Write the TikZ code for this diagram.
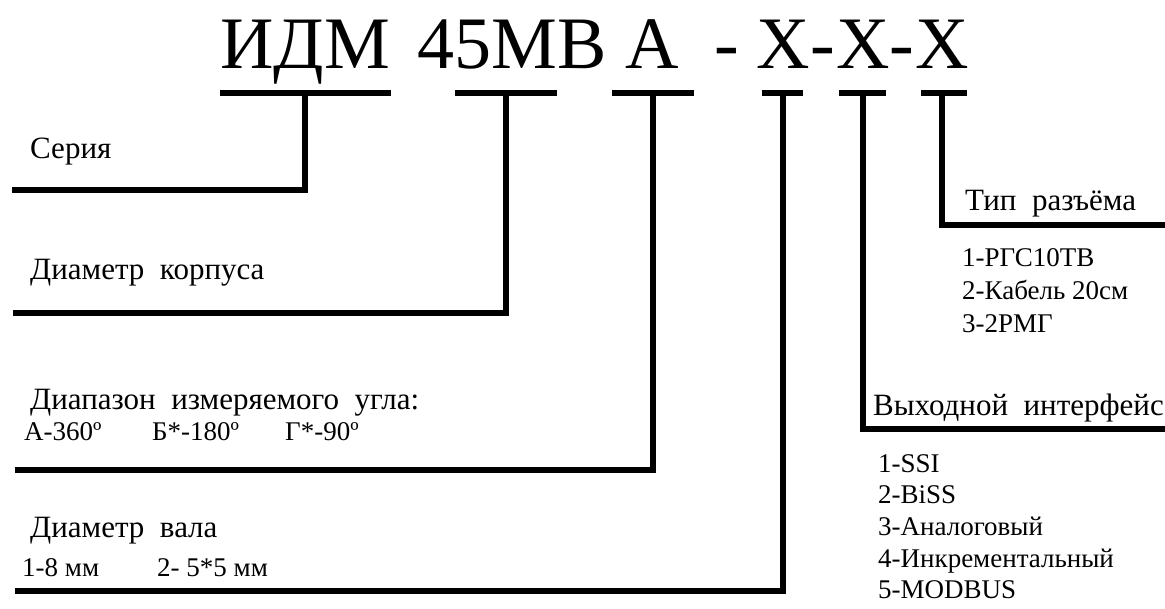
\documentclass[tikz,border=0pt]{standalone}
\usepackage{fontspec}
\setmainfont{Liberation Serif}
\begin{document}
\begin{tikzpicture}[x=1pt,y=-1pt,
  conn/.style={line width=6.5pt, line join=miter},
  title/.style={font=\fontsize{74}{74}\selectfont, anchor=base, inner sep=0pt},
  lbl/.style={font=\fontsize{31}{31}\selectfont, anchor=base west, inner sep=0pt},
  sub/.style={font=\fontsize{27}{27}\selectfont, anchor=base west, inner sep=0pt}]
\useasboundingbox (0,0) rectangle (1165,608);
% title
\node[title] (t1) at (305,68) {ИДМ};
\node[title] (t2) at (512,68) {45МВ};
\node[title] (t3) at (652,68) {А};
\node[title] (t4) at (727,68) {-};
\node[title] (x1) at (783,68) {Х};
\node[title] (d1) at (823,68) {-};
\node[title] (x2) at (863,68) {Х};
\node[title] (d2) at (902,68) {-};
\node[title] (x3) at (942,68) {Х};
% labels
\node[lbl] (l1) at (30,158) {Серия};
\node[lbl] (l2) at (30,279) {Диаметр\ \ корпуса};
\node[lbl] (l3) at (30,409) {Диапазон\ \ измеряемого\ \ угла:};
\node[sub] (l3a) at (24,440) {А-360º};
\node[sub] (l3b) at (152,440) {Б*-180º};
\node[sub] (l3c) at (285,440) {Г*-90º};
\node[lbl] (l4) at (30,537) {Диаметр\ \ вала};
\node[sub] (l4a) at (22,576) {1-8 мм};
\node[sub] (l4b) at (157,576) {2- 5*5 мм};
\node[lbl] (r1) at (965,210) {Тип\ \ разъёма};
\node[sub] (r1a) at (962,266) {1-РГС10ТВ};
\node[sub] (r1b) at (962,299) {2-Кабель 20см};
\node[sub] (r1c) at (962,332) {3-2РМГ};
\node[lbl] (r2) at (873,415) {Выходной\ \ интерфейс};
\node[sub] (r2a) at (878,472) {1-SSI};
\node[sub] (r2b) at (878,503) {2-BiSS};
\node[sub] (r2c) at (878,535) {3-Аналоговый};
\node[sub] (r2d) at (878,567) {4-Инкрементальный};
\node[sub] (r2e) at (878,598) {5-MODBUS};
% bars under title parts
\coordinate (b1l) at (220,93); \coordinate (b1r) at (391,93); \coordinate (b1) at (305,93);
\coordinate (b2l) at (455,93); \coordinate (b2r) at (557,93); \coordinate (b2) at (506,93);
\coordinate (b3l) at (612,93); \coordinate (b3r) at (694,93); \coordinate (b3) at (653,93);
\coordinate (b4l) at (762,93); \coordinate (b4r) at (803,93); \coordinate (b4) at (783,93);
\coordinate (b5l) at (839,93); \coordinate (b5r) at (886,93); \coordinate (b5) at (863,93);
\coordinate (b6l) at (921,93); \coordinate (b6r) at (967,93); \coordinate (b6) at (942,93);
% line ends
\coordinate (e1) at (12,190);
\coordinate (e2) at (13,313);
\coordinate (e3) at (15,470);
\coordinate (e4) at (15,591);
\coordinate (e5) at (1165,429);
\coordinate (e6) at (1165,225);
\foreach \i in {1,...,6}{\draw[conn] (b\i l) -- (b\i r);}
\draw[conn] (b1) |- (e1);
\draw[conn] (b2) |- (e2);
\draw[conn] (b3) |- (e3);
\draw[conn] (b4) |- (e4);
\draw[conn] (b5) |- (e5);
\draw[conn] (b6) |- (e6);
\end{tikzpicture}
\end{document}
